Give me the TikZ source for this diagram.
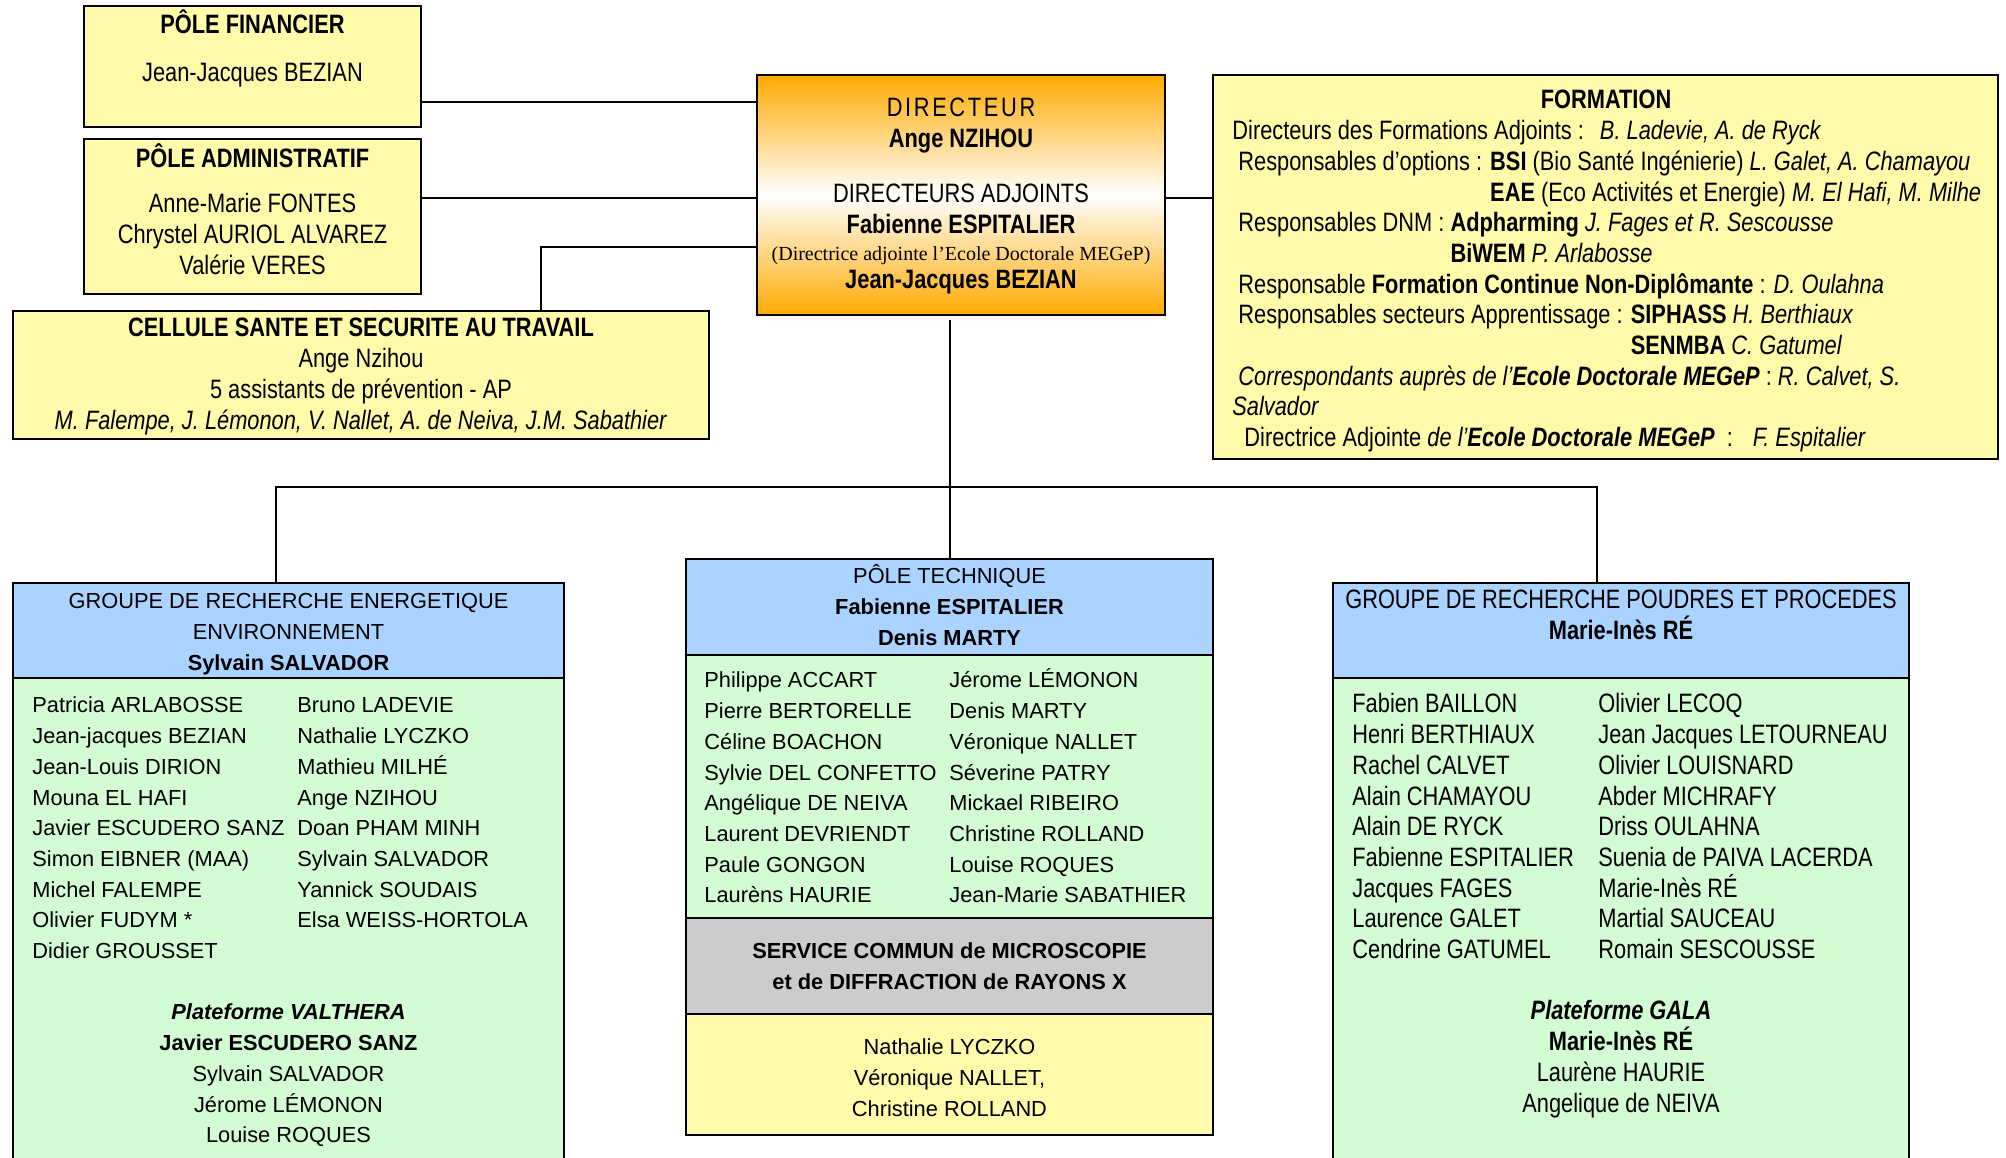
\documentclass[tikz,border=0pt]{standalone}
\usepackage{fontspec}
\setmainfont{Liberation Sans}
\newfontfamily\narrowfont[FakeStretch=0.82]{Liberation Sans}
\newfontfamily\trackedfont[FakeStretch=0.82,LetterSpace=10]{Liberation Sans}
\newfontfamily\timesfont{Liberation Serif}
\usetikzlibrary{fit}
\definecolor{paleyellow}{RGB}{255,251,170}
\definecolor{headblue}{RGB}{170,212,255}
\definecolor{bodygreen}{RGB}{212,252,212}
\definecolor{servgray}{RGB}{204,204,204}
\definecolor{dirorange}{RGB}{255,170,0}
\newcommand\linetop{\rule{0pt}{10.75pt}}

\begin{document}
\begin{tikzpicture}[x=0.5pt, y=-0.5pt,
    box/.style={draw, line width=1pt, inner sep=0pt},
    txt/.style={inner sep=0pt, anchor=north, align=center, font=\fontsize{10.9}{15.35}\selectfont},
    ntxt/.style={txt, font=\narrowfont\fontsize{13.3}{15.35}\selectfont},
    list/.style={txt, anchor=north west, align=left},
    nlist/.style={ntxt, anchor=north west, align=left}]
      \clip (0,0) rectangle (2006,1157);

      % Boxes
      \node[box, fill=paleyellow, fit={(84,6) (421,127)}] (fin) {};
      \node[box, fill=paleyellow, fit={(84,139) (421,294)}] (adm) {};
      \node[box, fill=paleyellow, fit={(13,311) (709,439)}] (cel) {};
      \node[box, top color=dirorange, bottom color=dirorange, middle color=white, fit={(757,75) (1165,315)}] (dir) {};
      \node[box, fill=paleyellow, fit={(1213,75) (1998,459)}] (form) {};
      \node[box, fill=headblue, fit={(13,583) (564,678)}] (gree) {};
      \node[box, fill=bodygreen, fit={(13,678) (564,1180)}] (greebody) {};
      \node[box, fill=headblue, fit={(686,559) (1213,655)}] (tech) {};
      \node[box, fill=bodygreen, fit={(686,655) (1213,918)}] (techbody) {};
      \node[box, fill=servgray, fit={(686,918) (1213,1014)}] (serv) {};
      \node[box, fill=paleyellow, fit={(686,1014) (1213,1135)}] (servnames) {};
      \node[box, fill=headblue, fit={(1333,583) (1909,678)}] (gpp) {};
      \node[box, fill=bodygreen, fit={(1333,678) (1909,1180)}] (gppbody) {};

      % Connections
      \draw[line width=1pt] (fin.east |- 0,102) -- (dir.west |- 0,102);
      \draw[line width=1pt] (adm.east |- 0,198) -- (dir.west |- 0,198);
      \draw[line width=1pt] (cel.north -| 541,0) |- (dir.west |- 0,247);
      \draw[line width=1pt] (dir.east |- 0,198) -- (form.west |- 0,198);
      \draw[line width=1pt] (tech.north) -- ([yshift=-2pt]dir.south -| tech.north);
      \draw[line width=1pt] (gree.north -| 276,0) |- (tech.north |- 0,487) -| (gpp.north -| 1597,0);

      % Top texts
      \node[ntxt] (fintxt) at (252.5,9) {\linetop\textbf{PÔLE FINANCIER}\\[9pt]Jean-Jacques BEZIAN};
      \node[ntxt] (admtxt) at (252.5,143) {\linetop\textbf{PÔLE ADMINISTRATIF}\\[7.5pt]Anne-Marie FONTES\\Chrystel AURIOL ALVAREZ\\Valérie VERES};
      \node[ntxt] (celtxt) at (361,315) {\linetop\textbf{CELLULE SANTE ET SECURITE AU TRAVAIL}\\Ange Nzihou\\5 assistants de prévention - AP\\\textit{M. Falempe, J. Lémonon, V. Nallet, A. de Neiva, J.M. Sabathier}};
      \node[ntxt] (dirtxt) at (961,95) {\linetop{\trackedfont DIRECTEUR}\\\textbf{Ange NZIHOU}\\[12pt]DIRECTEURS ADJOINTS\\\textbf{Fabienne ESPITALIER}\\[-1.5pt]{\timesfont\fontsize{10}{15.35}\selectfont(Directrice adjointe l’Ecole Doctorale MEGeP)}\\[-1.5pt]\textbf{Jean-Jacques BEZIAN}};
      \node[ntxt] (formtitle) at (1606,87) {\linetop\textbf{FORMATION}};
      \node[nlist] (formtxt) at (1232,117.7) {\linetop Directeurs des Formations Adjoints :\hspace{8pt}\textit{B. Ladevie, A. de Ryck}\\
        \hspace*{3pt}Responsables d’options : \textbf{BSI} (Bio Santé Ingénierie) \textit{L. Galet, A. Chamayou}\\
        \hspace*{3pt}\hphantom{Responsables d’options : }\textbf{EAE} (Eco Activités et Energie) \textit{M. El Hafi, M. Milhe}\\
        \hspace*{3pt}Responsables DNM : \textbf{Adpharming} \textit{J. Fages et R. Sescousse}\\
        \hspace*{3pt}\hphantom{Responsables DNM : }\textbf{BiWEM} \textit{P. Arlabosse}\\
        \hspace*{3pt}Responsable \textbf{Formation Continue Non-Diplômante} : \textit{D. Oulahna}\\
        \hspace*{3pt}Responsables secteurs Apprentissage : \textbf{SIPHASS} \textit{H. Berthiaux}\\
        \hspace*{3pt}\hphantom{Responsables secteurs Apprentissage : }\textbf{SENMBA} \textit{C. Gatumel}\\
        \hspace*{3pt}\textit{Correspondants auprès de l’\textbf{Ecole Doctorale MEGeP}} : \textit{R. Calvet, S.}\\
        \textit{Salvador}\\
        \hspace*{6pt}Directrice Adjointe \textit{de l’\textbf{Ecole Doctorale MEGeP}}\hspace{6pt}:\hspace{10pt}\textit{F. Espitalier}};

      % Groupe energetique
      \node[txt] (greetxt) at (288.5,587) {\linetop GROUPE DE RECHERCHE ENERGETIQUE\\ENVIRONNEMENT\\\textbf{Sylvain SALVADOR}};
      \node[list] (greecol1) at (32,691) {\linetop Patricia ARLABOSSE\\Jean-jacques BEZIAN\\Jean-Louis DIRION\\Mouna EL HAFI\\Javier ESCUDERO SANZ\\Simon EIBNER (MAA)\\Michel FALEMPE\\Olivier FUDYM *\\Didier GROUSSET};
      \node[list] (greecol2) at (297,691) {\linetop Bruno LADEVIE\\Nathalie LYCZKO\\Mathieu MILHÉ\\Ange NZIHOU\\Doan PHAM MINH\\Sylvain SALVADOR\\Yannick SOUDAIS\\Elsa WEISS-HORTOLA};
      \node[txt] (valthera) at (288.5,998) {\linetop\textbf{\textit{Plateforme VALTHERA}}\\\textbf{Javier ESCUDERO SANZ}\\Sylvain SALVADOR\\Jérome LÉMONON\\Louise ROQUES};

      % Pole technique
      \node[txt] (techtxt) at (949.5,562) {\linetop PÔLE TECHNIQUE\\\textbf{Fabienne ESPITALIER}\\\textbf{Denis MARTY}};
      \node[list] (techcol1) at (704,666) {\linetop Philippe ACCART\\Pierre BERTORELLE\\Céline BOACHON\\Sylvie DEL CONFETTO\\Angélique DE NEIVA\\Laurent DEVRIENDT\\Paule GONGON\\Laurèns HAURIE};
      \node[list] (techcol2) at (949,666) {\linetop Jérome LÉMONON\\Denis MARTY\\Véronique NALLET\\Séverine PATRY\\Mickael RIBEIRO\\Christine ROLLAND\\Louise ROQUES\\Jean-Marie SABATHIER};
      \node[txt] (servtxt) at (949.5,937) {\linetop\textbf{SERVICE COMMUN de MICROSCOPIE}\\\textbf{et de DIFFRACTION de RAYONS X}};
      \node[txt] (servnamestxt) at (949.5,1033) {\linetop Nathalie LYCZKO\\Véronique NALLET,\\Christine ROLLAND};

      % Groupe poudres
      \node[ntxt] (gpptxt) at (1621,587) {\linetop GROUPE DE RECHERCHE POUDRES ET PROCEDES\\\textbf{Marie-Inès RÉ}};
      \node[nlist] (gppcol1) at (1352,691) {\linetop Fabien BAILLON\\Henri BERTHIAUX\\Rachel CALVET\\Alain CHAMAYOU\\Alain DE RYCK\\Fabienne ESPITALIER\\Jacques FAGES\\Laurence GALET\\Cendrine GATUMEL};
      \node[nlist] (gppcol2) at (1598,691) {\linetop Olivier LECOQ\\Jean Jacques LETOURNEAU\\Olivier LOUISNARD\\Abder MICHRAFY\\Driss OULAHNA\\Suenia de PAIVA LACERDA\\Marie-Inès RÉ\\Martial SAUCEAU\\Romain SESCOUSSE};
      \node[ntxt] (gala) at (1621,998) {\linetop\textbf{\textit{Plateforme GALA}}\\\textbf{Marie-Inès RÉ}\\Laurène HAURIE\\Angelique de NEIVA};
\end{tikzpicture}
\end{document}
